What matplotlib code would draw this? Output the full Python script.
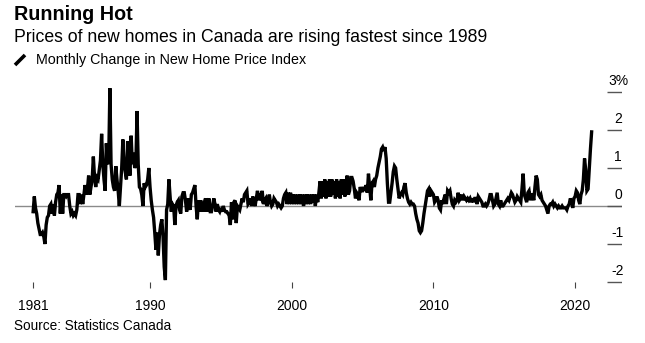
import numpy as np
import matplotlib.pyplot as plt
from matplotlib.lines import Line2D

plt.rcParams['font.family'] = ['Liberation Sans', 'DejaVu Sans']

# monthly % change in the new home price index
# series starts Oct 1981, one row per year
first_year = 1981
first_month = 10

chg_1980s = [
    -0.15, 0.25, -0.05,
    -0.2, -0.45, -0.6, -0.75, -0.75, -0.7, -0.8, -1.0, -0.5, -0.3, -0.25, 0.0,
    0.05, -0.2, 0.05, -0.25, 0.1, 0.3, 0.35, 0.55, -0.2, 0.3, -0.2, 0.3,
    0.3, 0.25, 0.3, 0.3, 0.0, -0.2, -0.15, -0.25, -0.2, -0.25, -0.1, 0.3,
    0.3, 0.05, 0.3, 0.05, 0.3, 0.55, 0.3, 0.45, 0.8, 0.3, 0.5, 0.7,
    1.3, 0.75, 0.5, 0.75, 0.7, 0.95, 1.2, 1.9, 1.1, 0.7, 0.4, 1.65,
    1.1, 1.2, 3.1, 1.1, 0.7, 0.5, 0.4, 1.05, 0.7, 0.4, 0.0, 0.5,
    1.0, 1.75, 1.1, 0.9, 0.7, 1.7, 1.2, 0.8, 1.85, 1.1, 1.4, 1.0,
    1.1, 2.5, 1.1, 0.5, 0.45, 0.3, 0.0, 0.6, 0.5, 0.55, 0.7, 1.0,
]
chg_1990s = [
    0.5, 0.15, -0.1, -0.3, -0.7, -1.15, -0.7, -1.3, -0.75, -0.5, -0.35, -0.8,
    -1.6, -1.95, -0.1, 0.05, 0.7, 0.25, -0.15, 0.05, 0.0, -0.5, 0.0, 0.1,
    0.15, -0.1, -0.2, 0.25, 0.35, 0.35, 0.15, -0.15, 0.2, 0.0, -0.1, 0.3,
    0.35, 0.45, 0.55, 0.0, -0.35, 0.15, -0.15, 0.15, 0.0, -0.15, 0.1, 0.2,
    -0.15, 0.1, 0.2, -0.15, -0.15, 0.0, 0.2, 0.05, -0.15, 0.05, -0.1, -0.15,
    -0.05, -0.15, 0.0, -0.1, -0.15, -0.15, -0.2, -0.25, -0.5, 0.1, -0.35, 0.1,
    0.15, -0.45, 0.0, -0.05, -0.1, 0.05, 0.2, 0.1, 0.3, 0.35, 0.4, 0.05,
    0.1, 0.2, 0.0, 0.25, 0.1, 0.0, 0.2, 0.4, 0.15, 0.25, 0.2, 0.4,
    0.05, 0.15, 0.2, 0.0, 0.1, 0.3, 0.1, 0.0, 0.05, 0.2, 0.15, 0.1,
    0.0, 0.05, 0.0, -0.05, 0.0, 0.2, 0.3, 0.35, 0.05, 0.35, 0.05, 0.35,
]
chg_2000s = [
    0.05, 0.3, 0.05, 0.3, 0.05, 0.3, 0.05, 0.3, 0.05, 0.3, 0.0, 0.3,
    0.05, 0.3, 0.05, 0.3, 0.05, 0.3, 0.1, 0.3, 0.0, 0.3, 0.1, 0.35,
    0.65, 0.2, 0.65, 0.25, 0.7, 0.2, 0.65, 0.25, 0.7, 0.25, 0.7, 0.3,
    0.65, 0.2, 0.7, 0.25, 0.65, 0.2, 0.7, 0.3, 0.7, 0.25, 0.6, 0.8,
    0.3, 0.4, 0.75, 0.75, 0.65, 0.45, 0.2, 0.35, 0.3, 0.15, 0.5, 0.4,
    0.4, 0.5, 0.4, 0.55, 0.35, 0.85, 0.5, 0.15, 0.6, 0.65, 0.5, 0.7,
    0.8, 1.0, 1.15, 1.3, 1.5, 1.55, 1.45, 1.55, 1.25, 0.6, 0.1, 0.1,
    0.35, 0.6, 0.9, 1.05, 1.0, 0.7, 0.45, 0.2, 0.3, 0.35, 0.3, 0.5,
    0.6, 0.35, 0.2, 0.1, 0.05, 0.1, 0.05, 0.05, 0.0, -0.2, -0.35, -0.45,
    -0.65, -0.7, -0.65, -0.45, -0.2, 0.0, 0.2, 0.4, 0.45, 0.25, 0.4, 0.35,
]
chg_2010s = [
    0.3, 0.1, 0.15, 0.25, 0.15, -0.05, -0.1, 0.15, 0.05, 0.2, 0.3, 0.05,
    0.4, 0.35, 0.4, 0.2, 0.05, 0.0, 0.15, 0.1, 0.15, 0.35, 0.15, 0.2,
    0.3, 0.15, 0.25, 0.2, 0.15, 0.2, 0.15, 0.2, 0.1, 0.2, 0.1, 0.2,
    0.2, 0.05, 0.25, 0.2, 0.15, 0.1, 0.0, 0.0, 0.05, 0.0, 0.05, 0.15,
    0.3, 0.3, 0.15, 0.0, 0.05, 0.2, 0.35, 0.05, 0.0, 0.15, 0.0, 0.0,
    0.05, 0.1, 0.15, 0.2, 0.15, 0.25, 0.35, 0.3, 0.2, 0.1, 0.15, 0.25,
    0.2, 0.15, 0.1, 0.45, 0.85, 0.3, 0.2, 0.1, 0.35, 0.4, 0.15, 0.3,
    0.3, 0.15, 0.5, 0.8, 0.7, 0.3, 0.25, 0.3, 0.15, 0.1, 0.05, 0.0,
    -0.1, -0.2, 0.0, 0.05, 0.05, 0.1, 0.0, 0.05, 0.0, -0.05, 0.0, -0.05,
    -0.05, 0.0, -0.05, -0.05, -0.05, -0.1, 0.0, 0.05, 0.2, 0.1, -0.05, 0.2,
]
chg_2020s = [
    0.25, 0.4, 0.35, 0.15, 0.05, 0.3, 0.4, 0.7, 1.25, 0.95, 0.4, 0.45,
    1.0, 1.5, 1.95,
]

year_ticks = [1981, 1990, 2000, 2010, 2020]
pct_ticks = [3, 2, 1, 0, -1, -2]
pct_labels = ['3%', '2', '1', '0', '-1', '-2']

values = np.array(chg_1980s + chg_1990s + chg_2000s + chg_2010s + chg_2020s)
dates = first_year + (first_month - 1) / 12 + np.arange(len(values)) / 12

W, H = 645, 343
fig = plt.figure(figsize=(W / 100, H / 100), dpi=100)

# axes box in pixels: left 15, right 622, top 80, bottom 288
ax = fig.add_axes([15 / W, 1 - 288 / H, (622 - 15) / W, (288 - 80) / H])
ax.set_xlim(1980.47, 2023.31)
ax.set_ylim((206 - 288) / 38, (206 - 80) / 38)

ax.axhline(0, color='#8a8a8a', lw=1.0, zorder=1)
ax.plot(dates, values, color='black', lw=2.4, solid_joinstyle='miter', zorder=3)

for s in ax.spines.values():
    s.set_visible(False)

# x ticks: first one sits at the start of the series
xt = [dates[0]] + year_ticks[1:]
ax.set_xticks(xt)
ax.set_xticklabels([str(y) for y in year_ticks])
ax.tick_params(axis='x', direction='in', length=4, width=0.8, color='#444444',
               pad=8, labelsize=10, labelcolor='black')
ax.set_yticks([])

# right-hand value ticks, label sitting above each tick
ytr = ax.get_yaxis_transform()
ax.hlines(pct_ticks, 0.975, 1.0, transform=ytr, color='#555555', lw=1.0)
for v, lab in zip(pct_ticks, pct_labels):
    ax.annotate(lab, xy=(0.9934, v), xycoords=ytr, xytext=(0, 3),
                textcoords='offset points', ha='center', va='bottom',
                fontsize=10, color='black')

fig.text(14 / W, 1 - 14 / H, 'Running Hot', fontsize=14.2, fontweight='bold',
         va='center', ha='left')
fig.text(14 / W, 1 - 37 / H, 'Prices of new homes in Canada are rising fastest since 1989',
         fontsize=12.7, va='center', ha='left')
fig.add_artist(Line2D([15 / W, 25 / W], [1 - 65 / H, 1 - 55 / H], color='black',
                      lw=2.6, solid_capstyle='butt'))
fig.text(36 / W, 1 - 60 / H, 'Monthly Change in New Home Price Index', fontsize=10.3,
         va='center', ha='left')
fig.text(14 / W, 1 - 326 / H, 'Source: Statistics Canada', fontsize=9.8,
         va='center', ha='left')

fig.savefig('out.png', dpi=100)
